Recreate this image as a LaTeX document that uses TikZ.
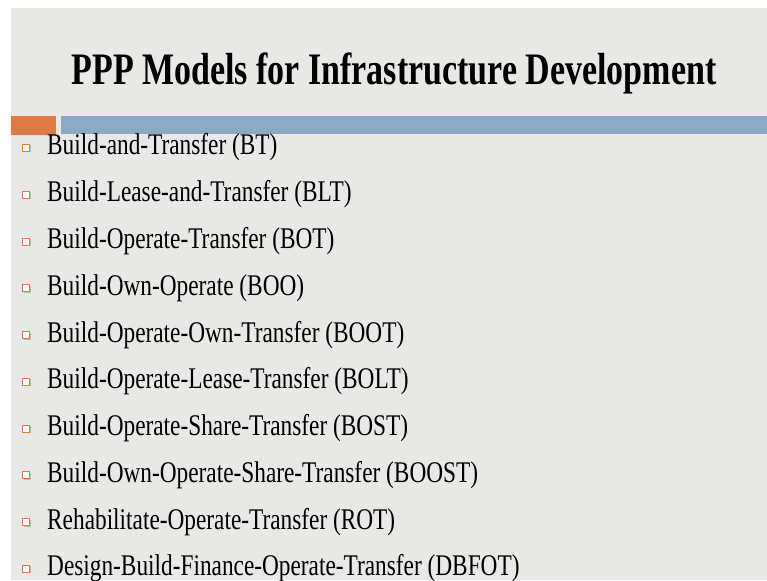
\documentclass[tikz,border=0pt]{standalone}
\usepackage{fontspec}
\usetikzlibrary{shadows}
\setmainfont{Liberation Serif}
\newfontfamily\titlefont[FakeStretch=0.755]{Liberation Serif}
\newfontfamily\itemfont[FakeStretch=0.777]{Liberation Serif}
\definecolor{slidegray}{HTML}{E8E8E6}
\definecolor{barorange}{HTML}{DD7A45}
\definecolor{barblue}{HTML}{8BA9C7}
\begin{document}
\begin{tikzpicture}[x=1pt,y=-1pt]
\tikzset{
  heading/.style={font=\titlefont\bfseries\fontsize{45}{45}\selectfont,inner sep=0pt,anchor=base},
  entry/.style={font=\itemfont\fontsize{30}{30}\selectfont,inner sep=0pt,anchor=base west},
  tick/.style={draw=barorange,line width=0.9pt,fill=white,minimum size=7pt,inner sep=0pt,
    general shadow={shadow xshift=1pt,shadow yshift=-1pt,fill=gray!55}}
}
\useasboundingbox (0,0) rectangle (767,580);
\fill[white] (0,0) rectangle (767,580);
\fill[slidegray] (11,8) rectangle (767,580);
% title and bars
\node[heading] (title) at (394,85) {PPP Models for Infrastructure Development};
\fill[barorange] (11,116) rectangle (56,135);
\fill[barblue] (61,116) rectangle (767,134);
% list of models
\foreach \txt [count=\i] in {Build-and-Transfer (BT),Build-Lease-and-Transfer (BLT),
    Build-Operate-Transfer (BOT),Build-Own-Operate (BOO),Build-Operate-Own-Transfer (BOOT),
    Build-Operate-Lease-Transfer (BOLT),Build-Operate-Share-Transfer (BOST),
    Build-Own-Operate-Share-Transfer (BOOST),Rehabilitate-Operate-Transfer (ROT),
    Design-Build-Finance-Operate-Transfer (DBFOT)}{
  \pgfmathsetmacro{\yy}{155+(\i-1)*46.75}
  \node[entry] (model\i) at (47,\yy) {\txt};
  \node[tick] (tick\i) at (26,\yy-7) {};
}
\end{tikzpicture}
\end{document}
